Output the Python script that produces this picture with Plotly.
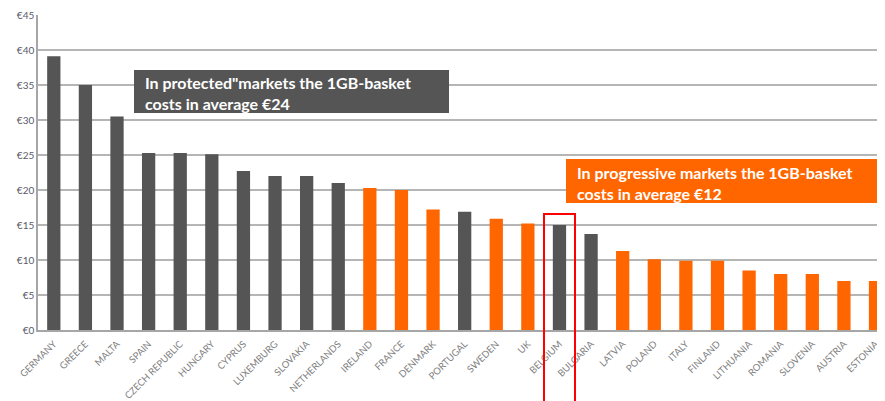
import plotly.graph_objects as go

countries = ["GERMANY", "GREECE", "MALTA", "SPAIN", "CZECH REPUBLIC", "HUNGARY", "CYPRUS",
             "LUXEMBURG", "SLOVAKIA", "NETHERLANDS", "IRELAND", "FRANCE", "DENMARK", "PORTUGAL",
             "SWEDEN", "UK", "BELGIUM", "BULGARIA", "LATVIA", "POLAND", "ITALY", "FINLAND",
             "LITHUANIA", "ROMANIA", "SLOVENIA", "AUSTRIA", "ESTONIA"]
prices = [39.1, 35.0, 30.5, 25.3, 25.3, 25.1, 22.7, 22.0, 22.0, 21.0, 20.3, 20.0, 17.2, 16.9,
          15.9, 15.2, 15.0, 13.7, 11.3, 10.1, 9.9, 9.9, 8.5, 8.0, 8.0, 7.0, 7.0]
market = ["protected"] * 10 + ["progressive", "progressive", "progressive", "protected",
          "progressive", "progressive", "protected", "protected"] + ["progressive"] * 9
y_ticks = [0, 5, 10, 15, 20, 25, 30, 35, 40, 45]
y_tick_labels = ["€" + str(v) for v in y_ticks]

GRAY = "#555555"
ORANGE = "#FF6600"
colors = [GRAY if m == "protected" else ORANGE for m in market]

# page body has an 8px margin, so the figure is drawn 8px right/down
OFF = 8
L, T = 38 - OFF, 15 - OFF
PW, PH = 847, 315

fig = go.Figure(go.Bar(x=countries, y=prices, marker=dict(color=colors, line=dict(width=0))))

fig.update_layout(
    width=885 - OFF, height=401 - OFF,
    margin=dict(l=L, r=0, t=T, b=(401 - OFF) - T - PH, autoexpand=False),
    paper_bgcolor="white", plot_bgcolor="white",
    bargap=0.58, showlegend=False,
    font=dict(family="Lato, Open Sans, sans-serif"),
)
fig.update_xaxes(
    range=[-0.5, 26.3], tickangle=-45, tickfont=dict(size=9.5, color="#808080"),
    showline=True, linecolor="#a6a6a6", linewidth=1.5, ticks="", showgrid=False,
    ticklabelstandoff=3,
)
fig.update_yaxes(
    range=[0, 45], tickvals=y_ticks, ticktext=y_tick_labels,
    tickfont=dict(size=10, color="#5a5a6a"), showgrid=True, gridcolor="#b5b5b5", gridwidth=1.5,
    showline=True, linecolor="#a6a6a6", linewidth=1.5, zeroline=False, ticks="",
)

def px_x(px):
    return (px - 38) / PW

def px_y(py):
    return (330 - py) / PH

boxes = [
    (134, 449, 70, 113, GRAY, "<b>In protected\"markets the 1GB-basket<br>costs in average €24</b>", 143, 93),
    (566, 881, 159, 203, ORANGE, "<b>In progressive markets the 1GB-basket<br>costs in average €12</b>", 575, 183),
]
for x0, x1, y0, y1, col, txt, tx, ty in boxes:
    fig.add_shape(type="rect", xref="paper", yref="paper",
                  x0=px_x(x0), x1=px_x(x1), y0=px_y(y1), y1=px_y(y0),
                  line=dict(width=0), fillcolor=col, layer="above")
    fig.add_annotation(xref="paper", yref="paper", x=px_x(tx), y=px_y(ty),
                       xanchor="left", yanchor="middle", align="left", text=txt,
                       font=dict(size=16, color="white", family="Lato, sans-serif"),
                       showarrow=False)

fig.add_shape(
    type="rect", xref="paper", yref="paper",
    x0=px_x(544), x1=px_x(575), y0=px_y(214), y1=-0.3,
    line=dict(color="#ff0000", width=2), fillcolor="rgba(0,0,0,0)",
)

fig.write_html("out.html")
